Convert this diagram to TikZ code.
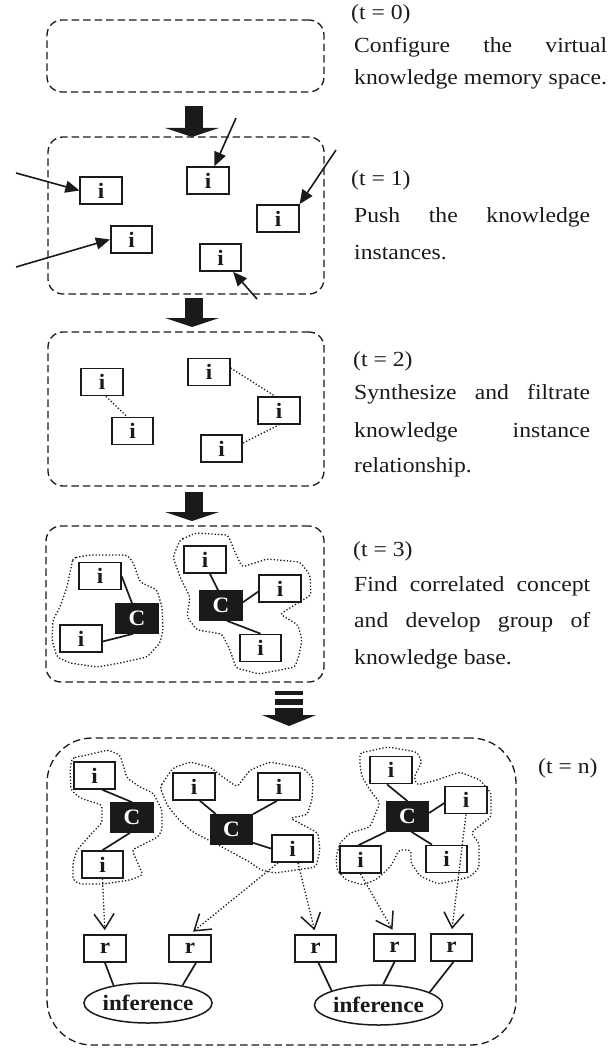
\documentclass[tikz,border=0pt]{standalone}
\usepackage{fontspec}
\setmainfont{Liberation Serif}
\newfontfamily\capfam[FakeStretch=1.1]{Liberation Serif}
\newfontfamily\lblfam[FakeStretch=1.05]{Liberation Serif}
\usetikzlibrary{arrows.meta,shapes.geometric}
\definecolor{ink}{HTML}{1A1A1A}
\newcommand\mycapfont{\capfam\fontsize{21.5}{24}\selectfont}
\newcommand\mylblfont{\lblfam\bfseries\fontsize{22}{22}\selectfont}
\begin{document}
\begin{tikzpicture}[x=1pt,y=-1pt,
  dbox/.style={draw=ink, line width=1.3pt, dash pattern=on 7.5pt off 4pt, rounded corners=15pt, inner sep=0pt},
  ibox/.style={draw=ink, line width=1.7pt, fill=white, text=ink, minimum width=41.5pt, minimum height=27pt, inner sep=0pt, font=\mylblfont},
  cbox/.style={ibox, fill=ink, text=white, minimum height=29pt},
  infbox/.style={ellipse, draw=ink, line width=1.5pt, fill=white, text=ink, minimum width=122pt, minimum height=40pt, inner sep=0pt, font=\mylblfont},
  link/.style={draw=ink, line width=1.7pt},
  dotl/.style={draw=ink, line width=1.3pt, dotted},
  blob/.style={draw=ink, line width=1.3pt, dotted, rounded corners=3pt},
  push/.style={draw=ink, line width=1.6pt, -{Triangle[length=14pt,width=12pt]}},
  infer/.style={draw=ink, line width=1.3pt, dotted, shorten >=4pt, -{Straight Barb[length=15pt,width=20pt,line width=1.5pt]}},
  captxt/.style={anchor=base west, inner sep=0pt, text=ink, font=\mycapfont},
  blockarrow/.style={fill=ink, draw=none}
]
\useasboundingbox (0,0) rectangle (613,1048);

% ---------- dashed memory spaces ----------
\node[dbox, minimum width=277pt, minimum height=72pt] (b1) at (185.5,56) {};
\node[dbox, minimum width=276pt, minimum height=157pt] (b2) at (186,215.5) {};
\node[dbox, minimum width=276pt, minimum height=154pt] (b3) at (186,409) {};
\node[dbox, minimum width=278pt, minimum height=156pt] (b4) at (185,604) {};
\node[dbox, rounded corners=45pt, minimum width=469pt, minimum height=307pt] (b5) at (281.5,891.5) {};

% ---------- block arrows ----------
\fill[blockarrow] (185,106) rectangle (203,129);
\fill[blockarrow] (165,128) -- (219,128) -- (192,137) -- cycle;
\fill[blockarrow] (185,298) rectangle (203,319);
\fill[blockarrow] (165,318) -- (219,318) -- (192,327) -- cycle;
\fill[blockarrow] (185,492) rectangle (203,513);
\fill[blockarrow] (165,512) -- (219,512) -- (192,521) -- cycle;
\fill[blockarrow] (275,691) rectangle (303,695);
\fill[blockarrow] (275,699) rectangle (303,705);
\fill[blockarrow] (275,708) rectangle (303,716);
\fill[blockarrow] (262,715) -- (316,715) -- (289,726) -- cycle;

% ---------- captions ----------
\node[captxt] (c0)  at (351,19.5) {(t = 0)};
\node[captxt] (c0a) at (354,53)  {\makebox[253pt][s]{Configure the virtual}};
\node[captxt] (c0b) at (354,85)  {knowledge memory space.};
\node[captxt] (c1)  at (351,186) {(t = 1)};
\node[captxt] (c1a) at (354,223) {\makebox[236pt][s]{Push the knowledge}};
\node[captxt] (c1b) at (354,260) {instances.};
\node[captxt] (c2)  at (353,366) {(t = 2)};
\node[captxt] (c2a) at (354,399) {\makebox[236pt][s]{Synthesize and filtrate}};
\node[captxt] (c2b) at (354,437) {\makebox[236pt][s]{knowledge instance}};
\node[captxt] (c2c) at (354,472) {relationship.};
\node[captxt] (c3)  at (353,556) {(t = 3)};
\node[captxt] (c3a) at (354,591) {\makebox[236pt][s]{Find correlated concept}};
\node[captxt] (c3b) at (354,627) {\makebox[236pt][s]{and develop group of}};
\node[captxt] (c3c) at (354,664) {knowledge base.};
\node[captxt] (cn)  at (538,773) {(t = n)};

% ---------- t = 1 ----------
\node[ibox] (A) at (101,190.5) {i};
\node[ibox] (B) at (208,180.5) {i};
\node[ibox] (C) at (278,218.5) {i};
\node[ibox] (D) at (131.5,239.5) {i};
\node[ibox] (E) at (220.5,257.5) {i};
\coordinate (src1) at (16,173);
\coordinate (src2) at (236,118);
\coordinate (src3) at (336,150);
\coordinate (src4) at (16,267);
\coordinate (src5) at (257,299);
\draw[push] (src1) -- (A.west);
\draw[push] (src2) -- (B);
\draw[push] (src3) -- (C.north east);
\draw[push] (src4) -- (D.west);
\draw[push] (src5) -- (E);

% ---------- t = 2 ----------
\node[ibox] (F) at (102,382) {i};
\node[ibox] (G) at (132.5,431) {i};
\node[ibox] (H) at (209,372) {i};
\node[ibox] (I) at (279,410.5) {i};
\node[ibox] (J) at (221.5,448.5) {i};
\draw[dotl] ([xshift=4pt]F.south) -- ([xshift=-5.5pt]G.north);
\draw[dotl] ([yshift=4pt]H.east) -- ([xshift=-4pt]I.north);
\draw[dotl] ([yshift=5.5pt]J.east) -- (I.south);

% ---------- t = 3 ----------
\draw[blob] (73,558) -- (90,555) -- (127,555) -- (133,562) -- (140,582) -- (157,590) -- (162,607) -- (163,630) -- (160,643) -- (147,657) -- (120,663) -- (97,667) -- (70,663) -- (57,657) -- (52,640) -- (53,620) -- (60,607) -- (67,587) -- (72,563) -- cycle;
\draw[blob] (180,540) -- (196,533) -- (228,535) -- (234,550) -- (242,567) -- (267,559) -- (300,562) -- (310,575) -- (311,595) -- (280,614) -- (298,625) -- (302,640) -- (299,655) -- (295,667) -- (259,674) -- (236,668) -- (230,650) -- (222,634) -- (197,630) -- (187,617) -- (190,597) -- (180,577) -- (173,557) -- cycle;
\node[ibox] (k1) at (100,576) {i};
\node[cbox] (kc1) at (137,618.5) {C};
\node[ibox] (k2) at (81,638.5) {i};
\node[ibox] (k3) at (205,559.5) {i};
\node[cbox] (kc2) at (221,605.5) {C};
\node[ibox] (k4) at (280,588.5) {i};
\node[ibox] (k5) at (260.5,648) {i};
\draw[link] (k1.east) -- ([xshift=-5pt]kc1.north);
\draw[link] ([yshift=-3pt]k2.east) -- ([xshift=-4pt]kc1.south);
\draw[link] ([xshift=5pt]k3.south) -- ([xshift=-3pt]kc2.north);
\draw[link] ([yshift=3pt]kc2.east) -- ([yshift=-3pt]k4.west);
\draw[link] ([xshift=6pt]kc2.south) -- (k5.north);

% ---------- t = n ----------
\draw[blob] (72,758) -- (87,755) -- (108,750) -- (120,755) -- (127,778) -- (140,787) -- (153,793) -- (162,810) -- (162,830) -- (158,837) -- (132,850) -- (143,875) -- (130,880) -- (103,884) -- (80,884) -- (73,880) -- (73,863) -- (77,850) -- (92,833) -- (102,823) -- (102,805) -- (80,798) -- (71,790) -- (70,770) -- cycle;
\draw[blob] (160,787) -- (173,768) -- (190,762) -- (210,767) -- (223,777) -- (237,787) -- (250,770) -- (270,762) -- (303,768) -- (313,778) -- (312,800) -- (307,815) -- (290,818) -- (318,833) -- (320,850) -- (316,867) -- (275,873) -- (261,870) -- (248,861) -- (222,847) -- (193,832) -- (180,821) -- (167,805) -- cycle;
\draw[blob] (360,753) -- (388,747) -- (417,752) -- (422,762) -- (414,777) -- (417,785) -- (437,780) -- (460,772) -- (480,780) -- (491,793) -- (491,817) -- (478,827) -- (471,833) -- (479,843) -- (479,868) -- (470,877) -- (438,884) -- (420,876) -- (411,863) -- (411,850) -- (399,850) -- (391,866) -- (377,879) -- (363,885) -- (346,880) -- (337,870) -- (336,857) -- (340,843) -- (350,833) -- (370,827) -- (380,803) -- (370,790) -- (362,777) -- (360,765) -- cycle;

\node[ibox] (p1) at (94.5,775.5) {i};
\node[cbox] (pc) at (132,817.5) {C};
\node[ibox] (p2) at (102.5,864.5) {i};
\node[ibox] (q1) at (194,786.5) {i};
\node[ibox] (q2) at (279,786.5) {i};
\node[cbox] (qc) at (231.5,829.5) {C};
\node[ibox] (q3) at (292.5,848.5) {i};
\node[ibox] (u1) at (391,770) {i};
\node[ibox] (u2) at (466,800) {i};
\node[cbox] (uc) at (407.5,816.5) {C};
\node[ibox] (u3) at (360.5,859.5) {i};
\node[ibox] (u4) at (446.5,859) {i};

\draw[link] ([xshift=8pt]p1.south) -- (pc.north);
\draw[link] ([xshift=-2pt]pc.south) -- (p2.north);
\draw[link] ([xshift=6pt]q1.south) -- ([xshift=6pt]qc.north west);
\draw[link] ([xshift=-2pt]q2.south) -- (qc.north east);
\draw[link] ([yshift=2pt]qc.south east) -- (q3.west);
\draw[link] ([xshift=-4pt]u1.south) -- (uc.north);
\draw[link] ([yshift=3.5pt]uc.east) -- ([yshift=-3pt]u2.west);
\draw[link] (uc.south west) -- ([xshift=-2pt]u3.north);
\draw[link] ([xshift=4pt]uc.south) -- ([xshift=-14.5pt]u4.north);

\node[ibox] (r1) at (105,948.5) {r};
\node[ibox] (r2) at (190,948.5) {r};
\node[ibox] (r3) at (315.5,948.5) {r};
\node[ibox] (r4) at (394.5,947.5) {r};
\node[ibox] (r5) at (451.5,947.5) {r};
\node[infbox] (inf1) at (148,1003) {inference};
\node[infbox] (inf2) at (378.5,1005) {inference};

\draw[link] (r1.south) -- (inf1.153);
\draw[link] ([xshift=6pt]r2.south) -- (inf1.27);
\draw[link] ([xshift=3pt]r3.south) -- (inf2.163);
\draw[link] (r4.south) -- (inf2.77);
\draw[link] ([xshift=2pt]r5.south) -- (inf2.14);

\draw[infer] (p2.south) -- (r1.north);
\draw[infer] ([xshift=-14.5pt]q3.south) -- (r2.north);
\draw[infer] ([xshift=5.5pt]q3.south) -- (r3.north);
\draw[infer] (u3.south) -- (r4.north);
\draw[infer] (u2.south) -- (r5.north);
\end{tikzpicture}
\end{document}
